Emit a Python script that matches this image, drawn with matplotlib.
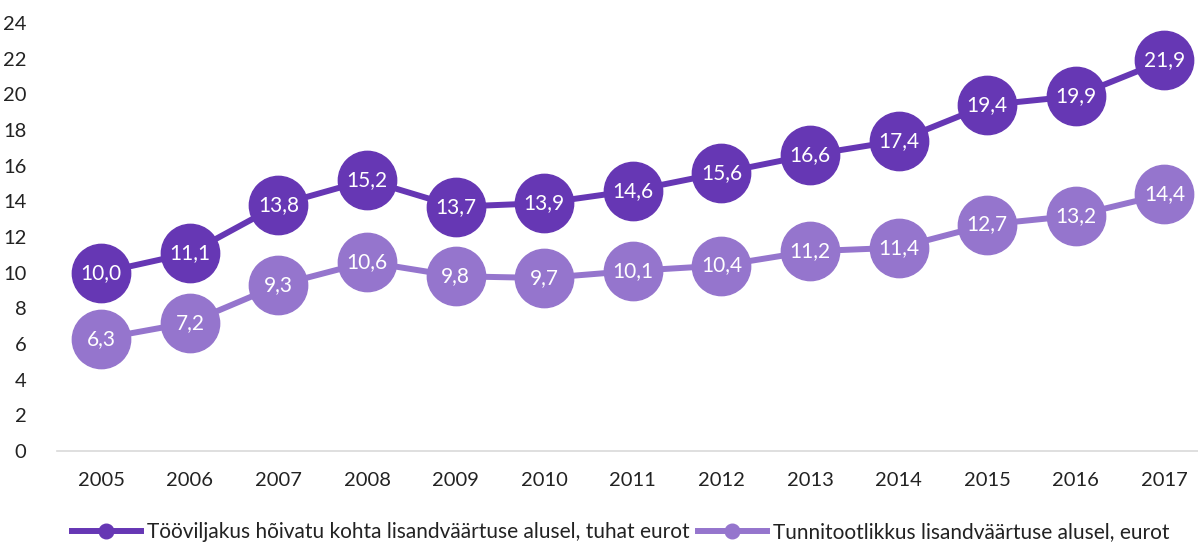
import matplotlib.pyplot as plt

years = ['2005', '2006', '2007', '2008', '2009', '2010', '2011',
         '2012', '2013', '2014', '2015', '2016', '2017']
toovil = [10.0, 11.1, 13.8, 15.2, 13.7, 13.9, 14.6, 15.6, 16.6, 17.4, 19.4, 19.9, 21.9]
tunni = [6.3, 7.2, 9.3, 10.6, 9.8, 9.7, 10.1, 10.4, 11.2, 11.4, 12.7, 13.2, 14.4]
labels = ['Tööviljakus hõivatu kohta lisandväärtuse alusel, tuhat eurot',
          'Tunnitootlikkus lisandväärtuse alusel, eurot']
colors = ['#6637b4', '#9575cd']

plt.rcParams['font.family'] = ['Lato', 'DejaVu Sans']

fig = plt.figure(figsize=(11.98, 5.47), dpi=100)
ax = fig.add_axes([57 / 1198, 96 / 547, 1 - 57 / 1198, 428 / 547])

x = range(len(years))
for vals, lab, c in zip([toovil, tunni], labels, colors):
    ax.plot(x, vals, color=c, lw=4.3, marker='o', ms=42, label=lab, zorder=3)
    for xi, v in zip(x, vals):
        ax.text(xi, v, f'{v:.1f}'.replace('.', ','), color='white', fontsize=15,
                ha='center', va='center', zorder=4)

ax.set_ylim(0, 24)
ax.set_xlim(-0.5, 12.38)
ax.set_yticks(range(0, 25, 2))
ax.set_xticks(list(x))
ax.set_xticklabels(years)
ax.tick_params(length=0, labelsize=14.5, colors='#222222')
ax.tick_params(axis='x', pad=15)
ax.tick_params(axis='y', pad=22)
for s in ['top', 'right', 'left']:
    ax.spines[s].set_visible(False)
ax.spines['bottom'].set_color('#d9d9d9')
ax.spines['bottom'].set_linewidth(1.2)

handles, labs = ax.get_legend_handles_labels()
leg = fig.legend(handles, labs, loc='center', bbox_to_anchor=(0.518, 0.027), ncol=2,
                 frameon=False, fontsize=15, handlelength=3.3, columnspacing=0.4,
                 handletextpad=0.3, markerscale=0.25)
for t in leg.get_texts():
    t.set_color('#222222')

fig.savefig('out.png', dpi=100)
